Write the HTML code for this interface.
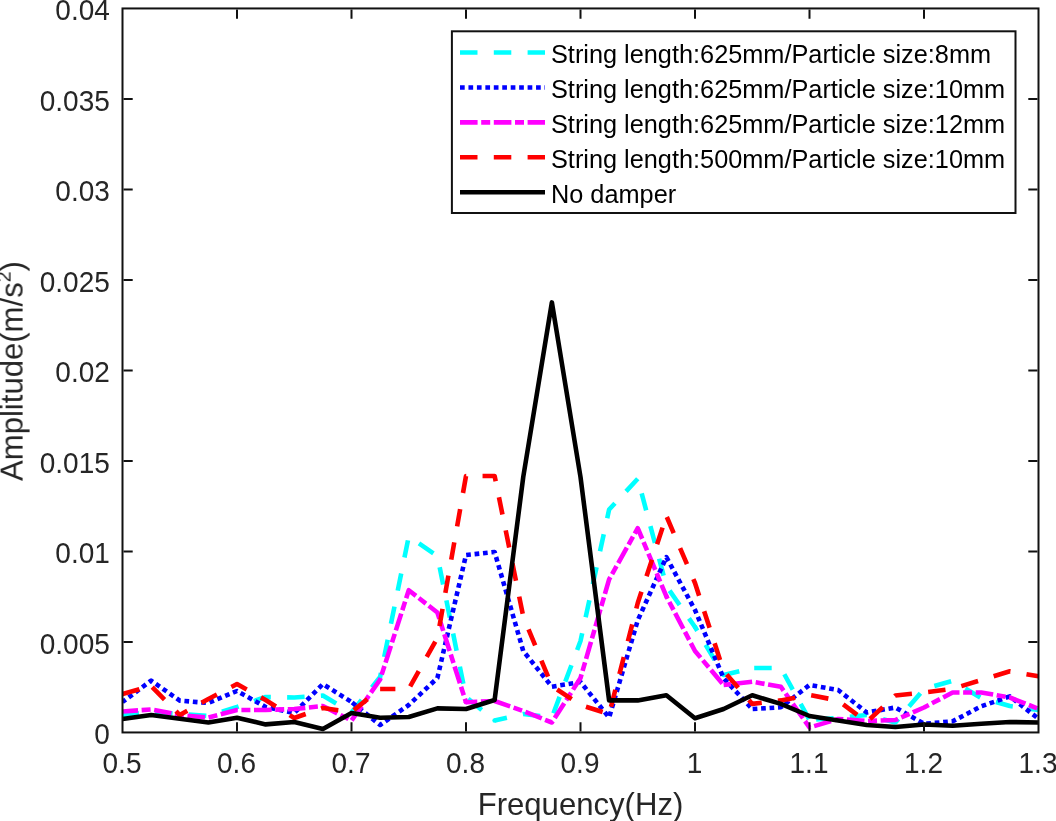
<!DOCTYPE html>
<html><head><meta charset="utf-8"><style>
html,body{margin:0;padding:0;background:#fff;}
svg{display:block;}
text{font-family:"Liberation Sans",sans-serif;}
</style></head><body>
<svg width="1056" height="821" viewBox="0 0 1056 821">
<rect x="0" y="0" width="1056" height="821" fill="#fff"/>

<defs><filter id="gs" filterUnits="userSpaceOnUse" x="0" y="0" width="1056" height="821"><feColorMatrix type="saturate" values="0"/></filter></defs>
<defs><clipPath id="pc"><rect x="122.5" y="8.45" width="916.0" height="724.0"/></clipPath></defs>
<g clip-path="url(#pc)" fill="none" stroke-linejoin="round">
<polyline points="122.50,715.00 151.12,712.00 179.75,714.00 208.38,716.00 237.00,707.00 265.62,697.00 294.25,697.50 322.88,695.60 351.50,712.50 380.12,677.00 408.75,536.50 437.38,556.00 466.00,697.00 494.62,720.50" stroke="#00ffff" stroke-width="4.6" stroke-dasharray="17.5 16.3" stroke-dashoffset="1.00"/>
<polyline points="494.62,720.50 523.25,714.00 551.88,717.50 580.50,641.00 609.12,509.50 637.75,478.80" stroke="#00ffff" stroke-width="4.6" stroke-dasharray="17.5 16.3" stroke-dashoffset="647.10"/>
<polyline points="637.75,478.80 666.38,586.00 695.00,627.00" stroke="#00ffff" stroke-width="4.6" stroke-dasharray="17.5 16.3" stroke-dashoffset="965.02"/>
<polyline points="695.00,627.00 723.62,675.00 752.25,668.00" stroke="#00ffff" stroke-width="4.6" stroke-dasharray="17.5 16.3" stroke-dashoffset="1128.48"/>
<polyline points="752.25,668.00 780.88,668.00 809.50,720.00" stroke="#00ffff" stroke-width="4.6" stroke-dasharray="17.5 16.3" stroke-dashoffset="1214.84"/>
<polyline points="809.50,720.00 838.12,718.00 866.75,715.00 895.38,722.50 924.00,689.00 952.62,680.80 981.25,698.00 1009.88,706.00 1038.50,710.00" stroke="#00ffff" stroke-width="4.6" stroke-dasharray="17.5 16.3" stroke-dashoffset="1311.52"/>
<circle cx="494.62" cy="720.50" r="2.3" fill="#00ffff" stroke="none"/>
<circle cx="695.00" cy="627.00" r="2.3" fill="#00ffff" stroke="none"/>
<polyline points="122.50,702.00 151.12,680.60 179.75,700.60 208.38,703.00 237.00,691.00 265.62,707.00 294.25,713.00 322.88,684.00 351.50,702.00" stroke="#0000ff" stroke-width="4.6" stroke-dasharray="4.7 3.75" stroke-dashoffset="0.70"/>
<polyline points="351.50,702.00 380.12,725.00 408.75,705.00 437.38,678.00 466.00,555.00 494.62,552.00 523.25,651.00 551.88,686.70 580.50,682.00 609.12,717.50 637.75,620.30 666.38,557.20 695.00,610.00 723.62,678.30 752.25,709.00" stroke="#0000ff" stroke-width="4.6" stroke-dasharray="4.7 3.75" stroke-dashoffset="269.53"/>
<polyline points="752.25,709.00 780.88,707.30 809.50,685.00 838.12,690.00 866.75,712.50 895.38,707.50 924.00,723.80 952.62,721.30 981.25,706.30 1009.88,696.30 1038.50,718.80" stroke="#0000ff" stroke-width="4.6" stroke-dasharray="4.7 3.75" stroke-dashoffset="1106.52"/>
<polyline points="122.50,711.50 151.12,709.40 179.75,715.00 208.38,717.50 237.00,710.00 265.62,710.00 294.25,709.00 322.88,706.00 351.50,720.60 380.12,679.50 408.75,590.20 437.38,612.50 466.00,702.30" stroke="#ff00ff" stroke-width="4.6" stroke-dasharray="17.6 3.6 9 3.6" stroke-dashoffset="2.00"/>
<polyline points="466.00,702.30 494.62,701.00 523.25,711.00 551.88,722.50 580.50,678.00 609.12,579.40 637.75,528.20 666.38,596.40" stroke="#ff00ff" stroke-width="4.6" stroke-dasharray="17.6 3.6 9 3.6" stroke-dashoffset="513.28"/>
<polyline points="666.38,596.40 695.00,651.00 723.62,685.00" stroke="#ff00ff" stroke-width="4.6" stroke-dasharray="17.6 3.6 9 3.6" stroke-dashoffset="893.71"/>
<polyline points="723.62,685.00 752.25,681.70 780.88,686.80 809.50,727.50 838.12,719.00 866.75,721.00 895.38,720.00 924.00,707.50 952.62,692.50 981.25,692.50 1009.88,697.50 1038.50,708.80" stroke="#ff00ff" stroke-width="4.6" stroke-dasharray="17.6 3.6 9 3.6" stroke-dashoffset="1002.90"/>
<circle cx="466.00" cy="702.30" r="2.3" fill="#ff00ff" stroke="none"/>
<circle cx="666.38" cy="596.40" r="2.3" fill="#ff00ff" stroke="none"/>
<polyline points="122.50,694.00 151.12,686.00" stroke="#ff0000" stroke-width="4.6" stroke-dasharray="17.5 16.3" stroke-dashoffset="0.00"/>
<polyline points="151.12,686.00 179.75,715.00" stroke="#ff0000" stroke-width="4.6" stroke-dasharray="17.5 16.3" stroke-dashoffset="32.22"/>
<polyline points="179.75,715.00 208.38,699.00 237.00,684.00 265.62,700.00 294.25,718.00 322.88,708.00 351.50,712.00 380.12,689.00" stroke="#ff0000" stroke-width="4.6" stroke-dasharray="17.5 16.3" stroke-dashoffset="76.47"/>
<polyline points="380.12,689.00 408.75,689.00 437.38,638.00 466.00,476.00 494.62,476.00 523.25,616.50" stroke="#ff0000" stroke-width="4.6" stroke-dasharray="17.5 16.3" stroke-dashoffset="306.43"/>
<polyline points="523.25,616.50 551.88,686.00 580.50,705.00 609.12,714.00" stroke="#ff0000" stroke-width="4.6" stroke-dasharray="17.5 16.3" stroke-dashoffset="729.76"/>
<polyline points="609.12,714.00 637.75,603.00 666.38,516.00" stroke="#ff0000" stroke-width="4.6" stroke-dasharray="17.5 16.3" stroke-dashoffset="871.29"/>
<polyline points="666.38,516.00 695.00,583.00 723.62,671.00 752.25,703.90" stroke="#ff0000" stroke-width="4.6" stroke-dasharray="17.5 16.3" stroke-dashoffset="1080.51"/>
<polyline points="752.25,703.90 780.88,700.40 809.50,695.00 838.12,700.50 866.75,722.00 895.38,695.50 924.00,692.50 952.62,688.80 981.25,680.00 1009.88,671.30 1038.50,676.30" stroke="#ff0000" stroke-width="4.6" stroke-dasharray="17.5 16.3" stroke-dashoffset="1292.32"/>
<circle cx="179.75" cy="715.00" r="2.3" fill="#ff0000" stroke="none"/>
<circle cx="752.25" cy="703.90" r="2.3" fill="#ff0000" stroke="none"/>
<polyline points="122.50,719.00 151.12,715.00 179.75,718.75 208.38,722.50 237.00,717.70 265.62,724.40 294.25,722.00 322.88,729.00 351.50,713.00 380.12,717.80 408.75,717.00 437.38,708.40 466.00,709.00 494.62,700.00 523.25,477.00 551.88,302.40 580.50,477.00 609.12,700.40 637.75,700.40 666.38,695.30 695.00,718.20 723.62,709.00 752.25,695.30 780.88,703.90 809.50,716.00 838.12,720.50 866.75,725.00 895.38,727.00 924.00,724.50 952.62,725.80 981.25,723.80 1009.88,722.00 1038.50,722.50" stroke="#000000" stroke-width="4.6"/>
</g>
<rect x="122.5" y="8.45" width="916.0" height="724.0" fill="none" stroke="#111" stroke-width="2"/>
<path d="M237.00,731.45V722.25M237.00,9.45V18.65M351.50,731.45V722.25M351.50,9.45V18.65M466.00,731.45V722.25M466.00,9.45V18.65M580.50,731.45V722.25M580.50,9.45V18.65M695.00,731.45V722.25M695.00,9.45V18.65M809.50,731.45V722.25M809.50,9.45V18.65M924.00,731.45V722.25M924.00,9.45V18.65M123.5,641.95H132.7M1037.5,641.95H1028.3M123.5,551.45H132.7M1037.5,551.45H1028.3M123.5,460.95H132.7M1037.5,460.95H1028.3M123.5,370.45H132.7M1037.5,370.45H1028.3M123.5,279.95H132.7M1037.5,279.95H1028.3M123.5,189.45H132.7M1037.5,189.45H1028.3M123.5,98.95H132.7M1037.5,98.95H1028.3" stroke="#111" stroke-width="2" fill="none"/>
<g filter="url(#gs)">
<text transform="translate(122.00,773.4) scale(1,1.08)" font-size="28" fill="#262626" text-anchor="middle">0.5</text>
<text transform="translate(236.50,773.4) scale(1,1.08)" font-size="28" fill="#262626" text-anchor="middle">0.6</text>
<text transform="translate(351.00,773.4) scale(1,1.08)" font-size="28" fill="#262626" text-anchor="middle">0.7</text>
<text transform="translate(465.50,773.4) scale(1,1.08)" font-size="28" fill="#262626" text-anchor="middle">0.8</text>
<text transform="translate(580.00,773.4) scale(1,1.08)" font-size="28" fill="#262626" text-anchor="middle">0.9</text>
<text transform="translate(694.50,773.4) scale(1,1.08)" font-size="28" fill="#262626" text-anchor="middle">1</text>
<text transform="translate(809.00,773.4) scale(1,1.08)" font-size="28" fill="#262626" text-anchor="middle">1.1</text>
<text transform="translate(923.50,773.4) scale(1,1.08)" font-size="28" fill="#262626" text-anchor="middle">1.2</text>
<text transform="translate(1038.00,773.4) scale(1,1.08)" font-size="28" fill="#262626" text-anchor="middle">1.3</text>
<text transform="translate(109.8,744.05) scale(1,1.08)" font-size="28" fill="#262626" text-anchor="end">0</text>
<text transform="translate(109.8,653.55) scale(1,1.08)" font-size="28" fill="#262626" text-anchor="end">0.005</text>
<text transform="translate(109.8,563.05) scale(1,1.08)" font-size="28" fill="#262626" text-anchor="end">0.01</text>
<text transform="translate(109.8,472.55) scale(1,1.08)" font-size="28" fill="#262626" text-anchor="end">0.015</text>
<text transform="translate(109.8,382.05) scale(1,1.08)" font-size="28" fill="#262626" text-anchor="end">0.02</text>
<text transform="translate(109.8,291.55) scale(1,1.08)" font-size="28" fill="#262626" text-anchor="end">0.025</text>
<text transform="translate(109.8,201.05) scale(1,1.08)" font-size="28" fill="#262626" text-anchor="end">0.03</text>
<text transform="translate(109.8,110.55) scale(1,1.08)" font-size="28" fill="#262626" text-anchor="end">0.035</text>
<text transform="translate(109.8,20.05) scale(1,1.08)" font-size="28" fill="#262626" text-anchor="end">0.04</text>
<text x="580.5" y="814.6" font-size="31.1" fill="#262626" text-anchor="middle">Frequency(Hz)</text>
<text transform="translate(22.6,481) rotate(-90)" x="0" y="0" font-size="31.1" fill="#262626">Amplitude(m/s<tspan font-size="19.5" dy="-11.6">2</tspan><tspan dy="11.6">)</tspan></text>
</g>
<rect x="451.9" y="31.3" width="563.6" height="181.7" fill="#fff" stroke="#111" stroke-width="2"/>
<line x1="460" y1="52.50" x2="545" y2="52.50" stroke="#00ffff" stroke-width="4.6" stroke-dasharray="17.5 16.3"/>
<line x1="460" y1="87.43" x2="545" y2="87.43" stroke="#0000ff" stroke-width="4.6" stroke-dasharray="4.7 3.75"/>
<line x1="460" y1="122.36" x2="545" y2="122.36" stroke="#ff00ff" stroke-width="4.6" stroke-dasharray="17.6 3.6 9 3.6"/>
<line x1="460" y1="157.29" x2="545" y2="157.29" stroke="#ff0000" stroke-width="4.6" stroke-dasharray="17.5 16.3"/>
<line x1="460" y1="192.22" x2="545" y2="192.22" stroke="#000000" stroke-width="4.6"/>
<g filter="url(#gs)">
<text x="551" y="63.00" font-size="25.3" fill="#000">String length:625mm/Particle size:8mm</text>
<text x="551" y="97.93" font-size="25.3" fill="#000">String length:625mm/Particle size:10mm</text>
<text x="551" y="132.86" font-size="25.3" fill="#000">String length:625mm/Particle size:12mm</text>
<text x="551" y="167.79" font-size="25.3" fill="#000">String length:500mm/Particle size:10mm</text>
<text x="551" y="202.72" font-size="25.3" fill="#000">No damper</text>
</g>
</svg></body></html>
